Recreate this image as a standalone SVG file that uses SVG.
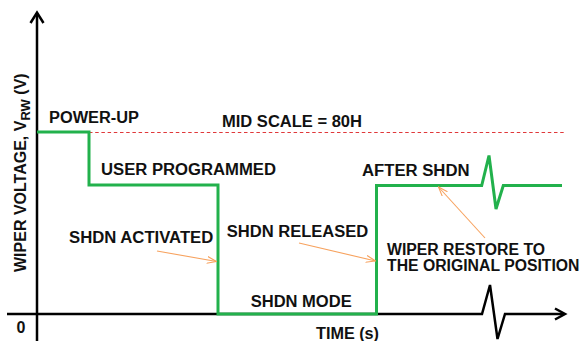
<svg xmlns="http://www.w3.org/2000/svg" width="582" height="341" viewBox="0 0 582 341">
<style>
text{font-family:"Liberation Sans",Arial,sans-serif;font-weight:bold;font-size:16px;fill:#111}
.axis{fill:none;stroke:#000;stroke-width:2.5;stroke-linejoin:miter}
.sig{fill:none;stroke:#22b14c;stroke-width:3;stroke-linejoin:miter}
.mid{fill:none;stroke:#e0383a;stroke-width:1;stroke-dasharray:3.5 2.7}
.call{fill:none;stroke:#f7a25e;stroke-width:1.1}
</style>
<defs>
<marker id="oa" viewBox="0 0 10 8" refX="9.5" refY="4" markerWidth="10" markerHeight="8" markerUnits="userSpaceOnUse" orient="auto">
<path d="M0,0.5 L9.5,4 L0,7.5" fill="none" stroke="#f7a25e" stroke-width="1.1"/>
</marker>
</defs>
<rect width="582" height="341" fill="#fff"/>
<g id="axes">
<path class="axis" d="M37,341 V13"/>
<path class="axis" d="M30.5,23 L37,12.5 L43.5,23"/>
<path class="axis" d="M7,314 H482 L490,285 L497.5,339 L505,314 H564"/>
<path class="axis" d="M555,308.5 L565,314 L555,319.5"/>
</g>
<g id="midscale">
<path class="mid" d="M89,132.5 H564"/>
</g>
<g id="signal">
<path class="sig" d="M37,132 H89 V185 H218 V314 H376.5 V185.5 H481.7 L489,155.5 L496,209 L503.3,185.5 H562"/>
</g>
<g id="labels">
<text id="ylabel" transform="translate(25.5,272) rotate(-90)">WIPER VOLTAGE, V<tspan font-size="13" dy="4.5">RW</tspan><tspan dy="-4.5"> (V)</tspan></text>
<text id="zero" x="16.5" y="333">0</text>
<text id="power-up" x="49" y="123" textLength="90" lengthAdjust="spacingAndGlyphs">POWER-UP</text>
<text id="mid-scale" x="222" y="126.5" textLength="140" lengthAdjust="spacingAndGlyphs">MID SCALE = 80H</text>
<text id="user-programmed" x="101" y="175" textLength="175" lengthAdjust="spacingAndGlyphs">USER PROGRAMMED</text>
<text id="after-shdn" x="362" y="176" textLength="107.5" lengthAdjust="spacingAndGlyphs">AFTER SHDN</text>
<text id="shdn-activated" x="69" y="243.3" textLength="144.3" lengthAdjust="spacingAndGlyphs">SHDN ACTIVATED</text>
<text id="shdn-released" x="226.7" y="237.3" textLength="141.6" lengthAdjust="spacingAndGlyphs">SHDN RELEASED</text>
<text id="wiper-restore" x="387" y="255" textLength="158" lengthAdjust="spacingAndGlyphs">WIPER RESTORE TO</text>
<text id="original-position" x="387" y="270.7" textLength="192.5" lengthAdjust="spacingAndGlyphs">THE ORIGINAL POSITION</text>
<text id="shdn-mode" x="250.7" y="306.7" textLength="101" lengthAdjust="spacingAndGlyphs">SHDN MODE</text>
<text id="time" x="316" y="338.5" textLength="63" lengthAdjust="spacingAndGlyphs">TIME (s)</text>
</g>
<g id="connectors">
<path class="call" marker-end="url(#oa)" d="M157,251 L216.5,261.5"/>
<path class="call" marker-end="url(#oa)" d="M299,243 L375.5,261"/>
<path class="call" marker-end="url(#oa)" d="M485,238 L438.5,187"/>
</g>
</svg>
